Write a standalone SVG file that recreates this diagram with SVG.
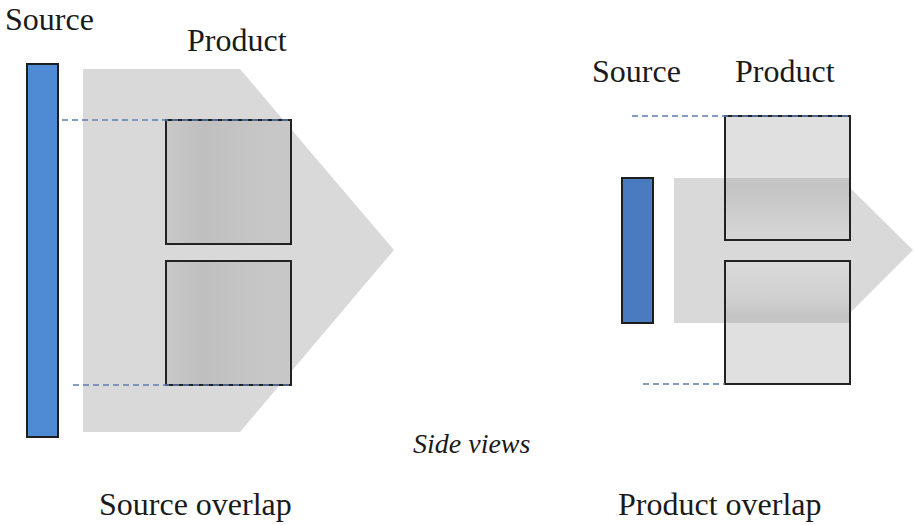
<svg xmlns="http://www.w3.org/2000/svg" width="914" height="525" viewBox="0 0 914 525">
  <style>
    .lbl { font-family: "Liberation Serif", "Times New Roman", serif; font-size: 32px; fill: #1a1a1a; }
    .cap { font-family: "Liberation Serif", "Times New Roman", serif; font-size: 28px; font-style: italic; fill: #1a1a1a; }
    .beam { fill: #d9d9d9; }
    .box { stroke: #222; stroke-width: 2; }
    .src { stroke: #1e1e1e; stroke-width: 2; }
    .guide { stroke: #5b7fae; stroke-width: 1.3; stroke-dasharray: 6 4; fill: none; }
  </style>
  <defs>
    <linearGradient id="prodH" x1="0" y1="0" x2="1" y2="0">
      <stop offset="0" stop-color="#c8c8c8"/>
      <stop offset="0.3" stop-color="#bfbfbf"/>
      <stop offset="0.6" stop-color="#c4c4c4"/>
      <stop offset="1" stop-color="#c8c8c8"/>
    </linearGradient>
    <linearGradient id="overTop" x1="0" y1="0" x2="0" y2="1">
      <stop offset="0" stop-color="#c6c6c6"/>
      <stop offset="0.15" stop-color="#c4c4c4"/>
      <stop offset="1" stop-color="#d8d8d8"/>
    </linearGradient>
    <linearGradient id="overBot" x1="0" y1="0" x2="0" y2="1">
      <stop offset="0" stop-color="#dadada"/>
      <stop offset="0.6" stop-color="#d0d0d0"/>
      <stop offset="0.9" stop-color="#c4c4c4"/>
      <stop offset="1" stop-color="#c6c6c6"/>
    </linearGradient>
  </defs>

  <!-- Left view: wide source -->
  <g id="left-beam">
    <polygon class="beam" points="83,69 240,69 394,250 240,432 83,432"/>
  </g>
  <g id="left-source">
    <rect class="src" x="27" y="64" width="31" height="373" fill="#4f8ad4"/>
    <text class="lbl" x="5" y="30">Source</text>
  </g>
  <g id="left-product">
    <rect class="box" x="166" y="120" width="125" height="124" fill="url(#prodH)"/>
    <rect class="box" x="166" y="261" width="125" height="124" fill="url(#prodH)"/>
    <text class="lbl" x="187" y="51">Product</text>
  </g>

  <!-- Right view: narrow source -->
  <g id="right-beam">
    <polygon class="beam" points="674,178 840,178 913,250 840,323 674,323"/>
  </g>
  <g id="right-source">
    <rect class="src" x="622" y="178" width="31" height="145" fill="#4a7bc0"/>
    <text class="lbl" x="592" y="82">Source</text>
  </g>
  <g id="right-product">
    <rect x="725" y="116" width="125" height="124" fill="#e0e0e0"/>
    <rect x="725" y="178" width="125" height="62" fill="url(#overTop)"/>
    <rect x="725" y="261" width="125" height="123" fill="#e0e0e0"/>
    <rect x="725" y="261" width="125" height="62" fill="url(#overBot)"/>
    <rect class="box" x="725" y="116" width="125" height="124" fill="none"/>
    <rect class="box" x="725" y="261" width="125" height="123" fill="none"/>
    <text class="lbl" x="735" y="82">Product</text>
  </g>

  <!-- Extent guides -->
  <g id="connectors">
    <line class="guide" x1="62" y1="120" x2="291" y2="120"/>
    <line class="guide" x1="73" y1="385" x2="291" y2="385"/>
    <line class="guide" x1="632" y1="116" x2="850" y2="116"/>
    <line class="guide" x1="643" y1="384" x2="725" y2="384"/>
  </g>

  <g id="captions">
    <text class="cap" x="413" y="453">Side views</text>
    <text class="lbl" x="99" y="515">Source overlap</text>
    <text class="lbl" x="618" y="515">Product overlap</text>
  </g>
</svg>
